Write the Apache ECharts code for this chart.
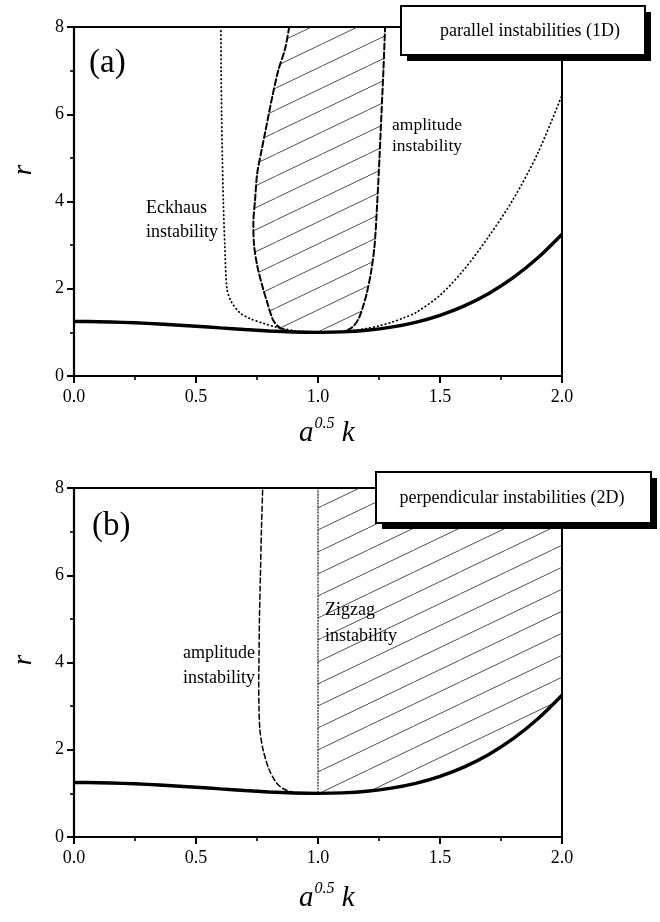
<!DOCTYPE html>
<html>
<head>
<meta charset="utf-8">
<script src="https://cdn.jsdelivr.net/npm/echarts@6/dist/echarts.min.js"></script>
<style>
html,body{margin:0;padding:0;background:#fff;}
#charts{width:660px;height:922px;}
</style>
</head>
<body>
<div id="charts"></div>
<script>
// neutral curve (thick solid), same in both panels
var kVals = [0,0.1,0.2,0.3,0.4,0.5,0.6,0.7,0.8,0.9,1.0,1.1,1.2,1.3,1.4,1.5,1.6,1.7,1.8,1.9,2.0];
var rNeutral = [1.25,1.245,1.230,1.207,1.176,1.141,1.102,1.065,1.032,1.009,1.0,1.011,1.048,1.119,1.230,1.391,1.608,1.893,2.254,2.703,3.25];

// (a) Eckhaus boundary, dotted
var eckLeftK = [0.602,0.603,0.605,0.608,0.612,0.618,0.627,0.645,0.68,0.72,0.78,0.83,0.9,0.96,1.0];
var eckLeftR = [8,7,6,5,4,3,2,1.7,1.45,1.32,1.2,1.12,1.04,1.01,1.0];
var eckRightK = [1.0,1.05,1.1,1.15,1.2,1.25,1.3,1.35,1.4,1.5,1.6,1.7,1.8,1.9,2.0];
var eckRightR = [1.0,1.005,1.02,1.05,1.09,1.15,1.23,1.33,1.45,1.85,2.45,3.2,4.05,5.1,6.44];

// (a) amplitude instability, dashed (left branch down, right branch up)
var ampAK = [0.882,0.865,0.837,0.81,0.783,0.769,0.751,0.742,0.735,0.738,0.752,0.775,0.789,0.816,0.84,0.865,0.9,1.0,1.1,1.131,1.15,1.168,1.185,1.2,1.218,1.232,1.243,1.252,1.26,1.268,1.275];
var ampAR = [8,7.5,7,6.33,5.57,5.18,4.65,4.03,3.5,3.0,2.5,2.0,1.74,1.28,1.12,1.05,1.01,1.0,1.01,1.08,1.17,1.33,1.6,1.9,2.4,3,4,5,6,7,8];

// (b) amplitude instability, dashed
var ampBK = [0.773,0.768,0.764,0.76,0.758,0.757,0.758,0.762,0.775,0.8,0.83,0.86,0.9];
var ampBR = [7.95,7,6,5,4,3.6,3,2.45,2.0,1.54,1.24,1.1,1.02];

// (b) Zigzag boundary, dotted
var zigK = [1.0,1.0];
var zigR = [8,1.0];

var xTicks = ['0.0','0.5','1.0','1.5','2.0'];

var serif = "'Liberation Serif','Times New Roman',serif";

function pairs(ks, rs){
	var out = [];
	for(var i=0;i<ks.length;i++){
		out.push([ks[i], rs[i]]);
	}
	return out;
}

// hatch pattern tile
var tile = document.createElement('canvas');
tile.width = 46; tile.height = 22;
var tc = tile.getContext('2d');
tc.strokeStyle = '#222';
tc.lineWidth = 0.8;
tc.beginPath();
tc.moveTo(-46, 44); tc.lineTo(92, -22);
tc.stroke();
var hatch = {image: tile, repeat: 'repeat'};

// polygon of hatched region, from data points through the axis scale
function hatchRender(ks, rs){
	return function(params, api){
		if(params.dataIndex > 0) return;
		var pts = [];
		for(var i=0;i<ks.length;i++){
			pts.push(api.coord([ks[i], rs[i]]));
		}
		return {type:'polygon', shape:{points:pts}, style:{fill:hatch, stroke:null}};
	};
}

// region b: between k=1 and k=2 above neutral curve
var hatchBK = [1.0], hatchBR = [8];
for(var i=0;i<kVals.length;i++){
	if(kVals[i] >= 1.0){ hatchBK.push(kVals[i]); hatchBR.push(rNeutral[i]); }
}
hatchBK.push(2.0); hatchBR.push(8);

function xAxisDef(idx){
	return {
		gridIndex: idx, type:'value', min:0, max:2, interval:0.5,
		axisLine:{show:true, onZero:false, lineStyle:{color:'#000', width:2.2}},
		axisTick:{show:true, inside:false, length:7, lineStyle:{color:'#000', width:2}},
		minorTick:{show:true, splitNumber:2, length:4, lineStyle:{color:'#000', width:1.6}},
		splitLine:{show:false},
		axisLabel:{color:'#000', fontFamily:serif, fontSize:18, margin:12,
			formatter:function(v){ return xTicks[Math.round(v/0.5)]; }}
	};
}
function yAxisDef(idx){
	return {
		gridIndex: idx, type:'value', min:0, max:8, interval:2,
		axisLine:{show:true, onZero:false, lineStyle:{color:'#000', width:2.2}},
		axisTick:{show:true, inside:false, length:7, lineStyle:{color:'#000', width:2}},
		minorTick:{show:true, splitNumber:2, length:4, lineStyle:{color:'#000', width:1.6}},
		splitLine:{show:false},
		axisLabel:{color:'#000', fontFamily:serif, fontSize:18, margin:10}
	};
}

function lineSeries(idx, data, type, width, z){
	return {
		type:'line', xAxisIndex:idx, yAxisIndex:idx, data:data,
		showSymbol:false, symbol:'none', smooth:0.3, z:z||3,
		lineStyle:{color:'#000', width:width, type:type, cap: (type==='solid' ? 'butt' : 'round')},
		animation:false
	};
}

function infoBox(x, y, w, h, text, tx){
	return {
		type:'group',
		children:[
			{type:'rect', z:100, shape:{x:x+6, y:y+6, width:w, height:h}, style:{fill:'#000'}},
			{type:'rect', z:101, shape:{x:x, y:y, width:w, height:h}, style:{fill:'#fff', stroke:'#000', lineWidth:2}},
			{type:'text', z:102, x:tx, y:y+h/2+1, style:{text:text, font:'18px '+serif, fill:'#000', align:'center', verticalAlign:'middle'}}
		]
	};
}
function label(x, y, text, size, italic){
	return {type:'text', x:x, y:y, z:50, style:{text:text, font:(italic?'italic ':'')+size+'px '+serif, fill:'#000', verticalAlign:'middle'}};
}
function xName(x, y){
	return {type:'text', x:x, y:y, z:50, style:{
		text:'{a|a}{s|0.5}{k| k}', fill:'#000', verticalAlign:'bottom',
		rich:{
			a:{fontFamily:serif, fontStyle:'italic', fontSize:29, lineHeight:32, verticalAlign:'bottom'},
			s:{fontFamily:serif, fontStyle:'italic', fontSize:16, lineHeight:32, verticalAlign:'top', padding:[0,0,0,1]},
			k:{fontFamily:serif, fontStyle:'italic', fontSize:29, lineHeight:32, verticalAlign:'bottom'}
		}}};
}
function yName(x, y){
	return {type:'text', x:x, y:y, rotation:Math.PI/2, z:50, style:{text:'r', font:'italic 27px '+serif, fill:'#000', align:'center', verticalAlign:'middle'}};
}

var charts = echarts.init(document.getElementById('charts'), null, {renderer:'canvas'});
var option = {
	animation:false,
	backgroundColor:'#fff',
	grid:[
		{left:74, top:27, width:488, height:349, show:true, borderColor:'#000', borderWidth:2, backgroundColor:'transparent'},
		{left:74, top:488, width:488, height:349, show:true, borderColor:'#000', borderWidth:2, backgroundColor:'transparent'}
	],
	xAxis:[xAxisDef(0), xAxisDef(1)],
	yAxis:[yAxisDef(0), yAxisDef(1)],
	series:[
		{type:'custom', xAxisIndex:0, yAxisIndex:0, data:[[ampAK[0], ampAR[0]]], renderItem:hatchRender(ampAK, ampAR), z:1, silent:true},
		{type:'custom', xAxisIndex:1, yAxisIndex:1, data:[[hatchBK[0], hatchBR[0]]], renderItem:hatchRender(hatchBK, hatchBR), z:1, silent:true},
		lineSeries(0, pairs(eckLeftK, eckLeftR), [0.5,3.5], 1.8),
		lineSeries(0, pairs(eckRightK, eckRightR), [0.5,3.5], 1.8),
		lineSeries(0, pairs(ampAK, ampAR), [6,3], 2),
		lineSeries(0, pairs(kVals, rNeutral), 'solid', 3.4, 5),
		lineSeries(1, pairs(ampBK, ampBR), [5,3], 1.5),
		lineSeries(1, pairs(zigK, zigR), [1.2,1.8], 1.1),
		lineSeries(1, pairs(kVals, rNeutral), 'solid', 3.4, 5)
	],
	graphic:[
		infoBox(401, 6, 244, 49, 'parallel instabilities (1D)', 530),
		infoBox(376, 472, 275, 51, 'perpendicular instabilities (2D)', 512),
		label(89, 63, '(a)', 33),
		label(92, 526, '(b)', 33),
		label(146, 208, 'Eckhaus', 18),
		label(146, 232, 'instability', 18),
		label(392, 125, 'amplitude', 17.5),
		label(392, 146, 'instability', 17.5),
		label(183, 653, 'amplitude', 18),
		label(183, 678, 'instability', 18),
		label(325, 610, 'Zigzag', 18),
		label(325, 636, 'instability', 18),
		xName(299, 448),
		xName(299, 913),
		yName(24, 170),
		yName(24, 660)
	]
};
charts.setOption(option);
</script>
</body>
</html>
